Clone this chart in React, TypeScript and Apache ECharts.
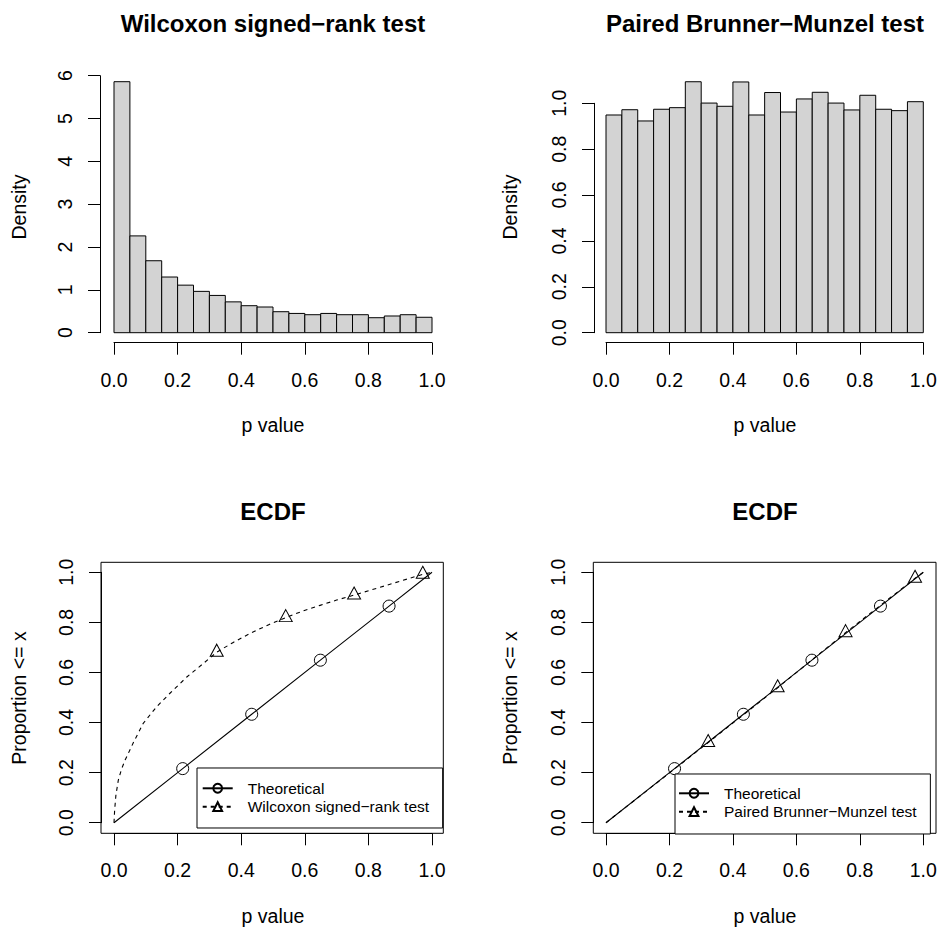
import React, { useEffect, useRef } from "react";
import * as echarts from "echarts";

// ---------- data ----------
const binStarts = [0, 0.05, 0.1, 0.15, 0.2, 0.25, 0.3, 0.35, 0.4, 0.45, 0.5, 0.55, 0.6, 0.65, 0.7, 0.75, 0.8, 0.85, 0.9, 0.95];
const binWidth = 0.05;
const wilcoxonDensity = [5.86, 2.26, 1.68, 1.3, 1.11, 0.965, 0.87, 0.72, 0.63, 0.6, 0.49, 0.45, 0.42, 0.45, 0.42, 0.42, 0.35, 0.39, 0.42, 0.36];
const brunnerDensity = [0.949, 0.972, 0.923, 0.974, 0.981, 1.094, 1.001, 0.987, 1.093, 0.949, 1.047, 0.962, 1.019, 1.048, 1.001, 0.971, 1.035, 0.974, 0.968, 1.007];

const theoreticalX = [0, 0.216, 0.433, 0.649, 0.865, 1];
const theoreticalY = [0, 0.216, 0.433, 0.649, 0.865, 1];
const theoreticalMarked = [false, true, true, true, true, false];

const wilcoxonEcdfX = [0, 0.002, 0.006, 0.0136, 0.024, 0.035, 0.061, 0.092, 0.134, 0.176, 0.229, 0.281, 0.323, 0.375, 0.428, 0.485, 0.54, 0.595, 0.648, 0.7, 0.755, 0.857, 0.971, 1];
const wilcoxonEcdfY = [0, 0.05, 0.11, 0.17, 0.215, 0.25, 0.32, 0.397, 0.463, 0.517, 0.582, 0.636, 0.681, 0.72, 0.756, 0.79, 0.819, 0.846, 0.868, 0.889, 0.909, 0.948, 0.992, 1];
const wilcoxonMarked = [false, false, false, false, false, false, false, false, false, false, false, false, true, false, false, false, true, false, false, false, true, false, true, false];

const brunnerEcdfX = [0, 0.322, 0.541, 0.755, 0.974, 1];
const brunnerEcdfY = [0, 0.32, 0.539, 0.759, 0.976, 1];
const brunnerMarked = [false, true, true, true, true, false];

const histTitles = ["Wilcoxon signed\u2212rank test", "Paired Brunner\u2212Munzel test"];
const ecdfTitle = "ECDF";
const xName = "p value";
const histYName = "Density";
const ecdfYName = "Proportion <= x";
const legendTheo = "Theoretical";
const legendWil = "Wilcoxon signed\u2212rank test";
const legendBM = "Paired Brunner\u2212Munzel test";

// ---------- styles ----------
const FONT = "'Liberation Sans', Arial, Helvetica, sans-serif";
const labelStyle = { color: "#000", fontSize: 19.5, fontFamily: FONT, lineHeight: 20 };

function xAxisCfg(gridIndex: number, offset: number) {
  return {
    type: "value",
    gridIndex,
    min: 0,
    max: 1,
    interval: 0.2,
    offset,
    axisLine: { show: true, onZero: false, lineStyle: { color: "#000", width: 1 } },
    axisTick: { show: true, length: 12, lineStyle: { color: "#000", width: 1 } },
    axisLabel: { ...labelStyle, margin: 27, formatter: (v: number) => v.toFixed(1) },
    splitLine: { show: false },
  };
}
function yAxisCfg(gridIndex: number, offset: number, max: number, interval: number, digits: number) {
  return {
    type: "value",
    gridIndex,
    min: 0,
    max,
    interval,
    offset,
    axisLine: { show: true, onZero: false, lineStyle: { color: "#000", width: 1 } },
    axisTick: { show: true, length: 12, lineStyle: { color: "#000", width: 1 } },
    axisLabel: { ...labelStyle, margin: 25, rotate: 90, formatter: (v: number) => v.toFixed(digits) },
    splitLine: { show: false },
  };
}
function hiddenAxis(gridIndex: number) {
  return {
    type: "value",
    gridIndex,
    min: -0.04,
    max: 1.04,
    show: false,
    axisLine: { show: false, onZero: false },
    axisTick: { show: false },
    axisLabel: { show: false },
    splitLine: { show: false },
  };
}

function histSeries(idx: number, dens: number[]) {
  return {
    type: "custom",
    xAxisIndex: idx,
    yAxisIndex: idx,
    clip: false,
    data: binStarts.map((s, i) => [s, s + binWidth, dens[i]]),
    encode: { x: [0, 1], y: 2 },
    renderItem: (params: any, api: any) => {
      const p0 = api.coord([api.value(0), api.value(2)]);
      const p1 = api.coord([api.value(1), 0]);
      return {
        type: "rect",
        shape: { x: p0[0], y: p0[1], width: p1[0] - p0[0], height: p1[1] - p0[1] },
        style: { fill: "#D3D3D3", stroke: "#000", lineWidth: 1 },
      };
    },
  };
}

function lineSeries(name: string, idx: number, xs: number[], ys: number[], marked: boolean[], sym: string, dashed: boolean) {
  const size = sym === "triangle" ? [13, 12] : 12;
  return {
    type: "line",
    name,
    xAxisIndex: idx,
    yAxisIndex: idx,
    clip: false,
    smooth: false,
    symbol: sym,
    symbolSize: size,
    symbolOffset: sym === "triangle" ? [0, -2] : [0, 0],
    showSymbol: true,
    data: xs.map((x, i) => ({ value: [x, ys[i]], symbol: marked[i] ? sym : "none" })),
    lineStyle: { color: "#000", width: 1.1, type: dashed ? [4, 4] : "solid" },
    itemStyle: { color: "rgba(0,0,0,0)", borderColor: "#000", borderWidth: 1 },
    emphasis: { disabled: true },
    z: dashed ? 3 : 2,
  };
}

function legendCfg(names: string[], left: number, top: number, padding: number[]) {
  return {
    data: names,
    orient: "vertical",
    left,
    top,
    padding,
    itemWidth: 30,
    itemHeight: 11,
    itemGap: 0.4,
    borderColor: "#000",
    borderWidth: 1,
    borderRadius: 0,
    backgroundColor: "#fff",
    selectedMode: false,
    textStyle: { fontFamily: FONT, fontSize: 15.5, color: "#000", lineHeight: 18, padding: [0, 0, 0, 10] },
    z: 10,
  };
}

function txt(text: string, x: number, y: number, size: number, bold: boolean, rot = 0) {
  return {
    type: "text",
    x,
    y,
    rotation: rot,
    style: {
      text,
      fill: "#000",
      font: `${bold ? "bold " : ""}${size}px ${FONT}`,
      textAlign: "center",
      textVerticalAlign: "middle",
    },
    z: 20,
  };
}

export default function App() {
  const ref = useRef<HTMLDivElement>(null);
  useEffect(() => {
    if (!ref.current) return;
    const chart = echarts.init(ref.current, undefined, { renderer: "svg" });
    const option: any = {
      animation: false,
      backgroundColor: "#fff",
      grid: [
        { left: 114, top: 75.7, width: 318, height: 257 },
        { left: 606, top: 103.3, width: 317.3, height: 229.4 },
        { left: 101, top: 562.3, width: 342.3, height: 271, show: true, borderColor: "#000", borderWidth: 1, backgroundColor: "transparent" },
        { left: 114, top: 572.3, width: 318, height: 250.4 },
        { left: 593.3, top: 562.3, width: 342.7, height: 271, show: true, borderColor: "#000", borderWidth: 1, backgroundColor: "transparent" },
        { left: 606, top: 572.3, width: 317.3, height: 250.4 },
      ],
      xAxis: [
        xAxisCfg(0, 10),
        xAxisCfg(1, 10),
        hiddenAxis(2),
        xAxisCfg(3, 10.6),
        hiddenAxis(4),
        xAxisCfg(5, 10.6),
      ],
      yAxis: [
        yAxisCfg(0, 14, 6, 1, 0),
        yAxisCfg(1, 12, 1, 0.2, 1),
        hiddenAxis(2),
        yAxisCfg(3, 13, 1, 0.2, 1),
        hiddenAxis(4),
        yAxisCfg(5, 12.7, 1, 0.2, 1),
      ],
      legend: [
        legendCfg([legendTheo, legendWil], 197, 768, [11.3, 13.6, 12.3, 4.7]),
        legendCfg([legendTheo, legendBM], 675, 774, [10.3, 13.8, 13.3, 3]),
      ],
      series: [
        histSeries(0, wilcoxonDensity),
        histSeries(1, brunnerDensity),
        lineSeries(legendTheo, 3, theoreticalX, theoreticalY, theoreticalMarked, "circle", false),
        lineSeries(legendWil, 3, wilcoxonEcdfX, wilcoxonEcdfY, wilcoxonMarked, "triangle", true),
        lineSeries(legendTheo, 5, theoreticalX, theoreticalY, theoreticalMarked, "circle", false),
        lineSeries(legendBM, 5, brunnerEcdfX, brunnerEcdfY, brunnerMarked, "triangle", true),
      ],
      graphic: [
        txt(histTitles[0], 273, 23.4, 24, true),
        txt(histTitles[1], 765, 23.4, 24, true),
        txt(ecdfTitle, 273, 511.7, 24, true),
        txt(ecdfTitle, 765, 511.7, 24, true),
        txt(xName, 273, 425, 19.5, false),
        txt(xName, 765, 425, 19.5, false),
        txt(xName, 273, 915.6, 19.5, false),
        txt(xName, 765, 915.6, 19.5, false),
        txt(histYName, 18.5, 207, 19.5, false, Math.PI / 2),
        txt(histYName, 510, 207, 19.5, false, Math.PI / 2),
        txt(ecdfYName, 18.5, 698, 19.5, false, Math.PI / 2),
        txt(ecdfYName, 510, 698, 19.5, false, Math.PI / 2),
      ],
    };
    chart.setOption(option);
    return () => chart.dispose();
  }, []);
  return <div ref={ref} style={{ position: "absolute", left: 0, top: 0, width: 940, height: 930 }} />;
}
